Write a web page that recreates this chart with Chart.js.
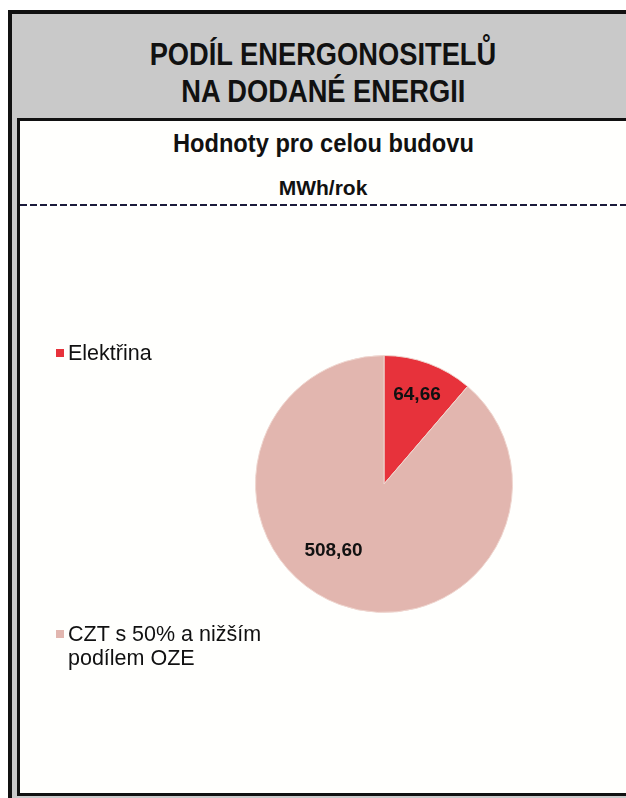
<!DOCTYPE html>
<html>
<head>
<meta charset="utf-8">
<script src="https://cdn.jsdelivr.net/npm/chart.js@4"></script>
<style>
  html, body { margin: 0; width: 626px; height: 798px; overflow: hidden; }
  body { background: #fff; position: relative; }
  #outer { position: absolute; left: 8px; top: 10px; width: 618px; height: 800px; border: 4px solid #111; border-right: none; background: #c9c9c9; }
  #inner { position: absolute; left: 17px; top: 118px; width: 609px; height: 672px; border-top: 3px solid #111; border-left: 3px solid #111; border-bottom: 3px solid #111; background: #fffffd; }
  .head { position: absolute; left: 0; width: 646px; text-align: center; font-family: "Liberation Sans", Arial, sans-serif; font-weight: bold; color: #111; }
  .head span { display: inline-block; }
  #t1 { top: 37px; font-size: 31px; }
  #t2 { top: 74px; font-size: 31px; }
  #t1 span, #t2 span { transform: scaleX(0.88); }
  #sub1 { top: 128px; font-size: 26px; }
  #sub1 span { transform: scaleX(0.91); }
  #sub2 { top: 176px; font-size: 21px; }
  #dash { position: absolute; left: 20px; top: 204px; width: 606px; height: 2px; background: repeating-linear-gradient(90deg, #1b1b3a 0 7px, transparent 7px 10px); }
  #chartBox { position: absolute; left: 20px; top: 210px; width: 606px; height: 580px; }
  .leg { position: absolute; left: 56px; font-family: "Liberation Sans", Arial, sans-serif; font-size: 21.5px; line-height: 24px; color: #111; }
  .leg span.sw { position: absolute; left: 0; top: 8px; width: 8px; height: 8px; }
  .leg span.tx { display: block; margin-left: 12px; }
</style>
</head>
<body>
<div id="outer"></div>
<div id="inner"></div>
<div class="head" id="t1"><span>PODÍL ENERGONOSITELŮ</span></div>
<div class="head" id="t2"><span>NA DODANÉ ENERGII</span></div>
<div class="head" id="sub1"><span>Hodnoty pro celou budovu</span></div>
<div class="head" id="sub2"><span>MWh/rok</span></div>
<div id="dash"></div>
<div id="chartBox"><canvas id="pieChart" width="606" height="580"></canvas></div>
<div id="legend"></div>
<script>
const categories = ['Elektřina', 'CZT s 50% a nižším\npodílem OZE'];
const values = [64.66, 508.60];
const valueLabels = ['64,66', '508,60'];
const colors = ['#e7323b', '#e2b6af'];

// legend (kept outside the canvas, spread like in the scan)
const legendTops = [341, 622];
const legend = document.getElementById('legend');
categories.forEach((c, i) => {
  const d = document.createElement('div');
  d.className = 'leg';
  d.style.top = legendTops[i] + 'px';
  d.innerHTML = '<span class="sw" style="background:' + colors[i] + '"></span><span class="tx">' + c.replace('\n', '<br>') + '</span>';
  legend.appendChild(d);
});

// value labels inside the slices
const sliceLabels = {
  id: 'sliceLabels',
  afterDatasetsDraw(chart, args, opts) {
    const ctx = chart.ctx;
    const meta = chart.getDatasetMeta(0);
    ctx.save();
    ctx.font = 'bold 19px "Liberation Sans", Arial, sans-serif';
    ctx.fillStyle = '#111';
    ctx.textAlign = 'center';
    ctx.textBaseline = 'middle';
    meta.data.forEach((arc, i) => {
      const a = arc.startAngle + (arc.endAngle - arc.startAngle) * opts.along[i];
      const r = arc.outerRadius * opts.radius[i];
      ctx.fillText(valueLabels[i], arc.x + Math.cos(a) * r, arc.y + Math.sin(a) * r);
    });
    ctx.restore();
  }
};

new Chart(document.getElementById('pieChart'), {
  type: 'pie',
  data: {
    labels: categories,
    datasets: [{
      data: values,
      backgroundColor: colors,
      borderColor: '#efd6cf',
      borderWidth: 1
    }]
  },
  options: {
    responsive: false,
    animation: false,
    layout: { padding: { left: 235, right: 113, top: 145, bottom: 177 } },
    plugins: {
      legend: { display: false },
      tooltip: { enabled: false },
      sliceLabels: { radius: [0.74, 0.65], along: [0.5, 0.553] }
    }
  },
  plugins: [sliceLabels]
});
</script>
</body>
</html>
